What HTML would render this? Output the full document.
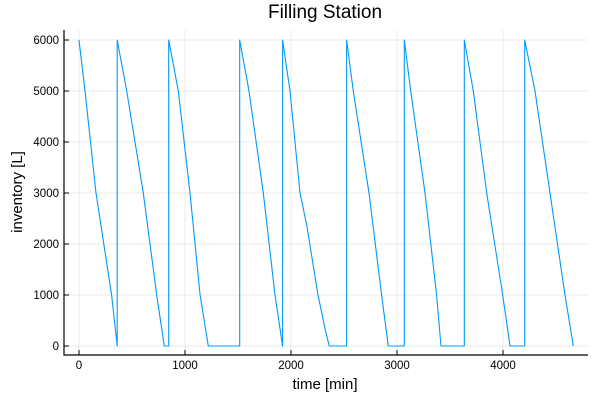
<!DOCTYPE html>
<html><head><meta charset="utf-8"><style>
body{margin:0;background:#fff;font-family:"Liberation Sans",sans-serif}
svg text{font-family:"Liberation Sans",sans-serif}
</style></head><body>
<svg id="c" width="600" height="400">
<text x="325" y="18" text-anchor="middle" font-size="19" fill="#000">Filling Station</text>
<text x="0" y="0" transform="translate(22,192) rotate(-90)" text-anchor="middle" font-size="15">inventory [L]</text>
<text x="325" y="389" text-anchor="middle" font-size="15">time [min]</text>
<g id="grid"></g><g id="axes"></g><g id="series"></g>
</svg>
<script>
const xTicks=[0,1000,2000,3000,4000];
const yTicks=[0,1000,2000,3000,4000,5000,6000];
const times=[0,57,160,308,360, 360,450,607,733,805,846, 846,937,1047,1142,1220,1516, 1516,1604,1739,1849,1921, 1921,1991,2085,2148,2255,2327,2361,2525, 2525,2588,2736,2855,2918,3069, 3069,3129,3264,3374,3415,3635, 3635,3720,3846,3997,4066,4205, 4205,4302,4443,4585,4663];
const inventory=[6000,5000,3000,1000,0, 6000,5000,3000,1000,0,0, 6000,5000,3000,1000,0,0, 6000,5000,3000,1000,0, 6000,5000,3000,2375,1000,280,0,0, 6000,5000,3000,1000,0,0, 6000,5000,3000,1000,0,0, 6000,5000,3000,1000,0,0, 6000,5000,3000,1000,0];
const L=64,R=588,T=30,B=355;
const sx=t=>79+t*0.106, sy=v=>346-v*0.051;
const NS="http://www.w3.org/2000/svg";
const mk=(tag,at,par)=>{const e=document.createElementNS(NS,tag);for(const k in at)e.setAttribute(k,at[k]);document.getElementById(par).appendChild(e);return e;};
xTicks.forEach(t=>{
 const g=mk('line',{x1:sx(t),x2:sx(t),y1:T,y2:B,stroke:'#000','stroke-opacity':0.08},'grid');
 
 
 const k=mk('line',{x1:sx(t),x2:sx(t),y1:B,y2:B-5,stroke:'#000','stroke-width':1},'axes');
 
 
 const tx=mk('text',{x:sx(t),y:B+14,'text-anchor':'middle','font-size':11.5},'axes');tx.textContent=t;
 
 
});
yTicks.forEach(v=>{
 const g=mk('line',{x1:L,x2:R,y1:sy(v),y2:sy(v),stroke:'#000','stroke-opacity':0.08},'grid');
 
 
 const k=mk('line',{x1:L,x2:L+5,y1:sy(v),y2:sy(v),stroke:'#000','stroke-width':1},'axes');
 
 
 const tx=mk('text',{x:L-5,y:sy(v)+4,'text-anchor':'end','font-size':11.5},'axes');tx.textContent=v;
 
 
});
const ax=mk('path',{d:`M${L},${T}V${B}H${R}`,fill:'none',stroke:'#000','stroke-width':1.2},'axes');


const d=times.map((t,i)=>(i?'L':'M')+sx(t).toFixed(1)+','+sy(inventory[i]).toFixed(1)).join('');
const p=mk('path',{d:d,fill:'none',stroke:'#009af9','stroke-width':1.1,'stroke-linejoin':'round'},'series');


</script>
</body></html>
